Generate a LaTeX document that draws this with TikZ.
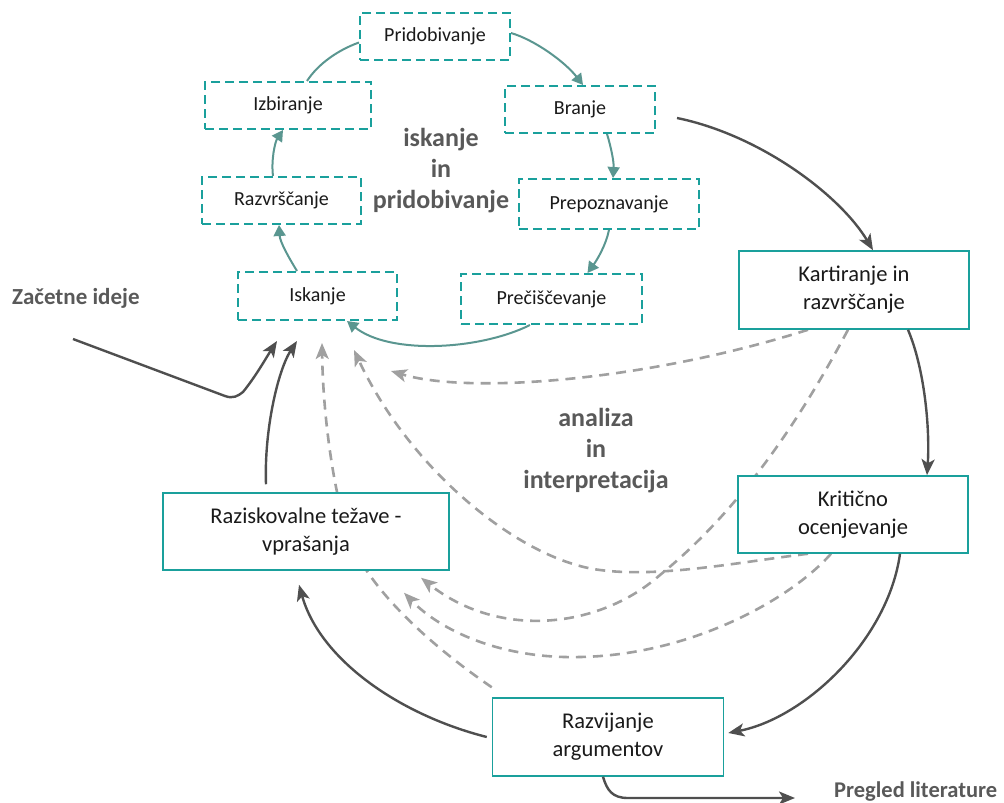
\documentclass[tikz,border=0pt]{standalone}
\usepackage{fontspec}
\setmainfont{Carlito}
\usetikzlibrary{arrows.meta}
\pgfdeclarelayer{bg}
\pgfsetlayers{bg,main}
\definecolor{tealc}{HTML}{1AA09C}
\definecolor{tealarr}{HTML}{5A9690}
\definecolor{darkarr}{HTML}{4F4F4F}
\definecolor{dgray}{HTML}{A0A0A0}
\definecolor{lblgray}{HTML}{595959}
\definecolor{txt}{HTML}{1A1A1A}
\begin{document}
\begin{tikzpicture}[x=1pt,y=-1pt,
  dbox/.style={draw=tealc, line width=2pt, dash pattern=on 9pt off 5pt, fill=white,
    inner sep=0pt, text=txt, font=\fontsize{20}{24}\selectfont},
  sbox/.style={draw=tealc, line width=1.5pt, fill=white, inner sep=0pt, align=center,
    text=txt, font=\fontsize{22.5}{28}\selectfont},
  lbl/.style={inner sep=0pt, align=center, text=lblgray, font=\fontsize{26}{31}\selectfont\bfseries},
  lbltwo/.style={inner sep=0pt, text=lblgray, font=\fontsize{23}{28}\selectfont\bfseries},
  tline/.style={draw=tealarr, line width=2pt},
  tarr/.style={tline, -{Triangle[length=11pt,width=12pt]}},
  darr/.style={draw=darkarr, line width=2.4pt, -{Stealth[length=16pt,width=13pt,inset=4pt]}},
  garr/.style={draw=dgray, line width=2.6pt, dash pattern=on 10pt off 7pt,
    -{Stealth[length=16pt,width=13pt,inset=4pt]}}
]
\useasboundingbox (0,0) rectangle (1004,803);

% dashed boxes (upper cycle)
\node[dbox, minimum width=150pt, minimum height=47pt] (prid) at (435,36.5) {Pridobivanje};
\node[dbox, minimum width=150pt, minimum height=47pt] (branje) at (580,109.5) {Branje};
\node[dbox, minimum width=166pt, minimum height=47pt] (izbir) at (288,105.5) {Izbiranje};
\node[dbox, minimum width=159pt, minimum height=47pt] (razvr) at (281.5,200.5) {Razvrščanje};
\node[dbox, minimum width=180pt, minimum height=50pt] (prepoz) at (609,204) {Prepoznavanje};
\node[dbox, minimum width=159pt, minimum height=48pt] (iskanje) at (317.5,296) {Iskanje};
\node[dbox, minimum width=181pt, minimum height=50pt] (preci) at (551.5,299) {Prečiščevanje};

% solid boxes
\node[sbox, minimum width=230pt, minimum height=78pt] (kart) at (854,290) {Kartiranje in\\razvrščanje};
\node[sbox, minimum width=230pt, minimum height=77pt] (krit) at (853,514.5) {Kritično\\ocenjevanje};
\node[sbox, minimum width=286pt, minimum height=77pt] (razisk) at (306,531.5) {Raziskovalne težave -\\vprašanja};
\node[sbox, minimum width=231pt, minimum height=78pt] (razvij) at (608,737) {Razvijanje\\argumentov};

% labels
\node[lbl] (lab1) at (441,171) {iskanje\\in\\pridobivanje};
\node[lbl] (lab2) at (596,451) {analiza\\in\\interpretacija};
\node[lbltwo, anchor=west] (zac) at (12,298) {Začetne ideje};
\node[lbltwo, anchor=base west, font=\fontsize{22.5}{27}\selectfont\bfseries] (preg) at (834,797.5) {Pregled literature};

% gray dashed feedback arrows (behind boxes)
\begin{pgfonlayer}{bg}
\draw[garr] ([yshift=10pt]razvij.north west) .. controls (430,645) and (370,590) .. (350,540)
  .. controls (335,500) and (323,420) .. ([xshift=4.5pt,yshift=-22pt]iskanje.south);
\draw[garr] ([xshift=-45pt]krit.south) .. controls (740,562) and (660,578) .. (600,570)
  .. controls (520,560) and (410,470) .. ([xshift=36.5pt,yshift=-29pt]iskanje.south);
\draw[garr] ([xshift=-46pt]kart.south) .. controls (650,380) and (470,395) .. ([xshift=73.5pt,yshift=-50pt]iskanje.south);
\draw[garr] ([xshift=-6pt]kart.south) .. controls (800,420) and (740,510) .. (660,575)
  .. controls (600,628) and (500,640) .. ([xshift=115pt,yshift=-7pt]razisk.south);
\draw[garr] ([xshift=-22pt]krit.south) .. controls (790,600) and (690,655) .. (580,657)
  .. controls (500,659) and (440,630) .. ([xshift=98pt,yshift=-22pt]razisk.south);
\end{pgfonlayer}

% teal cycle arrows
\draw[tline] ([xshift=19pt]izbir.north) .. controls (318,64) and (338,50) .. ([yshift=-6pt]prid.west);
\draw[tarr] ([yshift=3.5pt]prid.east) .. controls (535,40) and (565,62) .. ([xshift=3pt]branje.north);
\draw[tarr] ([xshift=27pt]branje.south) .. controls (611,147) and (614,162) .. ([xshift=4pt]prepoz.north);
\draw[tarr] (prepoz.south) .. controls (606,245) and (597,260) .. ([xshift=36pt]preci.north);
\draw[tarr] ([xshift=-21.5pt]preci.south) .. controls (480,350) and (390,355) .. ([xshift=29.5pt]iskanje.south);
\draw[tarr] ([xshift=-20.5pt]iskanje.north) .. controls (289,258) and (280,242) .. ([xshift=-2.5pt]razvr.south);
\draw[tarr] ([xshift=-8.5pt]razvr.north) .. controls (271,160) and (275,142) .. ([xshift=-5pt]izbir.south);

% dark main cycle arrows
\draw[darr] ([xshift=21pt,yshift=-8.5pt]branje.east) .. controls (760,135) and (840,195) .. ([xshift=19pt]kart.north);
\draw[darr] ([xshift=54pt]kart.south) .. controls (925,370) and (930,430) .. ([xshift=74pt]krit.north);
\draw[darr] ([xshift=47pt]krit.south) .. controls (888,640) and (805,718) .. ([xshift=4pt,yshift=4pt]razvij.east);
\draw[darr] ([xshift=-5pt]razvij.west) .. controls (400,715) and (320,660) .. ([xshift=-7pt,yshift=-14pt]razisk.south);
\draw[darr] ([xshift=-40pt,yshift=8pt]razisk.north) .. controls (264,430) and (278,370) .. ([xshift=-20.5pt,yshift=-20pt]iskanje.south);

% Začetne ideje
\coordinate (zs) at (73,339);
\coordinate (zk) at (233,399);
\draw[darr] (zs) -- ([xshift=-8pt,yshift=3pt]zk) .. controls (zk) and ([xshift=5pt,yshift=3pt]zk) .. ([xshift=10pt,yshift=7pt]zk)
  .. controls (256,376) and (266,358) .. ([xshift=-40.5pt,yshift=-20pt]iskanje.south);

% Pregled literature
\coordinate (pl) at (795,798);
\draw[darr] ([xshift=-5pt]razvij.south) .. controls (607,790) and (612,798) .. (628,798) -- (pl);
\end{tikzpicture}
\end{document}
